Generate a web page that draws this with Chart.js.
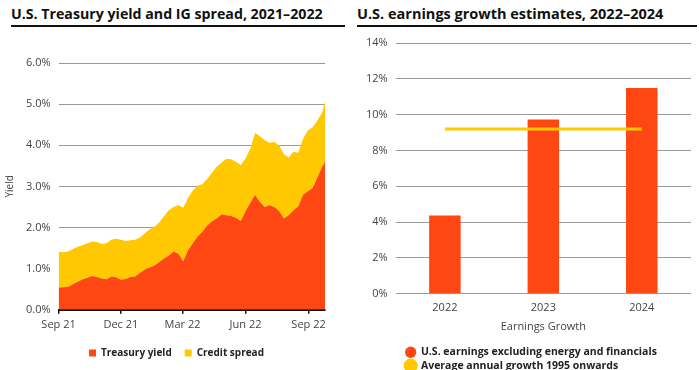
<!DOCTYPE html>
<html>
<head>
<meta charset="utf-8">
<script src="https://cdn.jsdelivr.net/npm/chart.js@4/dist/chart.umd.min.js"></script>
<style>
  body { margin: 0; background: #fff; font-family: "Open Sans", sans-serif; }
  .wrap { position: relative; width: 699px; height: 370px; overflow: hidden; }
  .title {
    position: absolute; top: 0; height: 25px; line-height: 27px;
    font-weight: 700; font-size: 14.2px; color: #111;
    border-bottom: 2.5px solid #111; white-space: nowrap;
  }
  #t1 { left: 11px; width: 334px; }
  #t2 { left: 357px; width: 340px; font-size: 14.5px; }
  .box { position: absolute; }
  #b1 { left: 0; top: 30px; width: 350px; height: 338px; }
  #b2 { left: 350px; top: 28px; width: 349px; height: 353px; }
</style>
</head>
<body>
<div class="wrap">
  <div class="title" id="t1">U.S. Treasury yield and IG spread, 2021–2022</div>
  <div class="title" id="t2">U.S. earnings growth estimates, 2022–2024</div>
  <div class="box" id="b1"><canvas id="yieldChart" width="350" height="338"></canvas></div>
  <div class="box" id="b2"><canvas id="growthChart" width="349" height="353"></canvas></div>
</div>
<script>
// left chart: days since 1 Sep 2021, weekly readings
const yieldDays = [0, 7, 14, 21, 28, 35, 42, 49, 56, 63, 70, 77, 84, 91, 98, 105, 112, 119, 126, 133,
  140, 147, 154, 161, 168, 175, 182, 189, 196, 203, 210, 217, 224, 231, 238, 245, 252, 259, 266, 273,
  280, 287, 294, 301, 308, 315, 322, 329, 336, 343, 350, 357, 364, 371, 378, 385, 389];
const treasuryYield = [0.54, 0.55, 0.56, 0.62, 0.68, 0.74, 0.78, 0.82, 0.80, 0.76, 0.74, 0.81, 0.79, 0.73, 0.75, 0.80, 0.81, 0.90, 0.98, 1.03,
  1.08, 1.16, 1.25, 1.32, 1.42, 1.36, 1.18, 1.45, 1.62, 1.78, 1.90, 2.05, 2.15, 2.22, 2.32, 2.30, 2.28, 2.24, 2.16, 2.40,
  2.60, 2.80, 2.62, 2.50, 2.54, 2.50, 2.40, 2.22, 2.30, 2.42, 2.52, 2.80, 2.88, 2.96, 3.22, 3.48, 3.60];
const creditSpread = [0.87, 0.85, 0.86, 0.86, 0.85, 0.83, 0.84, 0.84, 0.85, 0.84, 0.88, 0.89, 0.94, 0.97, 0.92, 0.89, 0.89, 0.86, 0.88, 0.93,
  0.94, 0.96, 1.03, 1.10, 1.08, 1.19, 1.30, 1.27, 1.28, 1.24, 1.15, 1.13, 1.18, 1.26, 1.26, 1.37, 1.38, 1.36, 1.36, 1.28,
  1.32, 1.50, 1.60, 1.62, 1.52, 1.58, 1.60, 1.56, 1.40, 1.42, 1.30, 1.36, 1.48, 1.48, 1.38, 1.32, 1.47];
const yieldTickDays = [0, 91, 181, 273, 365];
const yieldTickLabels = ['Sep 21', 'Dec 21', 'Mar 22', 'Jun 22', 'Sep 22'];

// right chart
const growthYears = ['2022', '2023', '2024'];
const earningsGrowth = [4.37, 9.72, 11.48];
const avgGrowth = [9.19, 9.19, 9.19];

const RED = '#FF4713';
const YELLOW = '#FFC800';
const GRID = '#9a9a9a';
const TEXT = '#444';

Chart.defaults.font.family = '"Open Sans", sans-serif';
Chart.defaults.color = TEXT;

// nudges the legend sideways without moving the plot area
const legendShift = {
  id: 'legendShift',
  afterLayout(chart, args, opts) {
    if (!chart.legend || !opts.dx) return;
    chart.legend.left += opts.dx;
    chart.legend.right += opts.dx;
  },
};

const toPoints = (vals) => vals.map((v, i) => ({ x: yieldDays[i], y: v }));

new Chart(document.getElementById('yieldChart'), {
  type: 'line',
  data: {
    datasets: [
      {
        label: 'Treasury yield',
        data: toPoints(treasuryYield),
        backgroundColor: RED,
        borderWidth: 0,
        pointRadius: 0,
        fill: 'origin',
        tension: 0,
      },
      {
        label: 'Credit spread',
        data: toPoints(creditSpread),
        backgroundColor: YELLOW,
        borderWidth: 0,
        pointRadius: 0,
        fill: '-1',
        tension: 0,
      },
    ],
  },
  plugins: [legendShift],
  options: {
    responsive: false,
    animation: false,
    layout: { padding: { top: 33, right: 25, bottom: 0, left: 2 } },
    plugins: {
      legendShift: { dx: 13 },
      legend: {
        position: 'bottom',
        labels: {
          color: '#222',
          font: { size: 10, weight: 'bold' },
          boxWidth: 7,
          boxHeight: 7,
          padding: 13,
        },
      },
      tooltip: { enabled: false },
    },
    scales: {
      x: {
        type: 'linear',
        min: 0,
        max: 389,
        afterBuildTicks: (axis) => {
          axis.ticks = yieldTickDays.map((d) => ({ value: d }));
        },
        ticks: {
          autoSkip: false,
          maxRotation: 0,
          padding: 4,
          color: TEXT,
          font: { size: 11 },
          callback: (v) => yieldTickLabels[yieldTickDays.indexOf(v)],
        },
        grid: { drawOnChartArea: false, color: '#111', tickLength: 4, lineWidth: 1.5 },
        border: { color: '#111', width: 2 },
      },
      y: {
        stacked: true,
        min: 0,
        max: 6,
        ticks: {
          stepSize: 1,
          padding: 8,
          color: TEXT,
          font: { size: 11 },
          callback: (v) => v.toFixed(1) + '%',
        },
        grid: { color: GRID, drawTicks: false },
        border: { display: false },
        title: { display: true, text: 'Yield', color: TEXT, font: { size: 10 }, padding: 2 },
      },
    },
  },
});

new Chart(document.getElementById('growthChart'), {
  type: 'bar',
  data: {
    labels: growthYears,
    datasets: [
      {
        label: 'U.S. earnings excluding energy and financials',
        data: earningsGrowth,
        backgroundColor: RED,
        barPercentage: 0.32,
        categoryPercentage: 1,
        order: 1,
      },
      {
        type: 'line',
        label: 'Average annual growth 1995 onwards',
        data: avgGrowth,
        borderColor: YELLOW,
        backgroundColor: YELLOW,
        borderWidth: 3,
        pointRadius: 0,
        order: 0,
      },
    ],
  },
  plugins: [legendShift],
  options: {
    responsive: false,
    animation: false,
    layout: { padding: { top: 15, right: 8, bottom: 0, left: 8 } },
    plugins: {
      legendShift: { dx: 7 },
      legend: {
        position: 'bottom',
        fullSize: false,
        align: 'start',
        labels: {
          color: '#222',
          font: { size: 10.5, weight: 'bold' },
          usePointStyle: true,
          pointStyle: 'circle',
          boxWidth: 10,
          boxHeight: 8,
          padding: 3,
          sort: (a, b) => a.datasetIndex - b.datasetIndex,
        },
      },
      tooltip: { enabled: false },
    },
    scales: {
      x: {
        ticks: { color: TEXT, font: { size: 11 }, padding: 0 },
        grid: { display: false },
        border: { display: false },
        title: { display: true, text: 'Earnings Growth', color: TEXT, font: { size: 11 }, padding: { top: 5, bottom: 11 } },
      },
      y: {
        min: 0,
        max: 14,
        ticks: {
          stepSize: 2,
          padding: 8,
          color: TEXT,
          font: { size: 11 },
          callback: (v) => v + '%',
        },
        grid: { color: GRID, drawTicks: false },
        border: { display: false },
      },
    },
  },
});
</script>
</body>
</html>
